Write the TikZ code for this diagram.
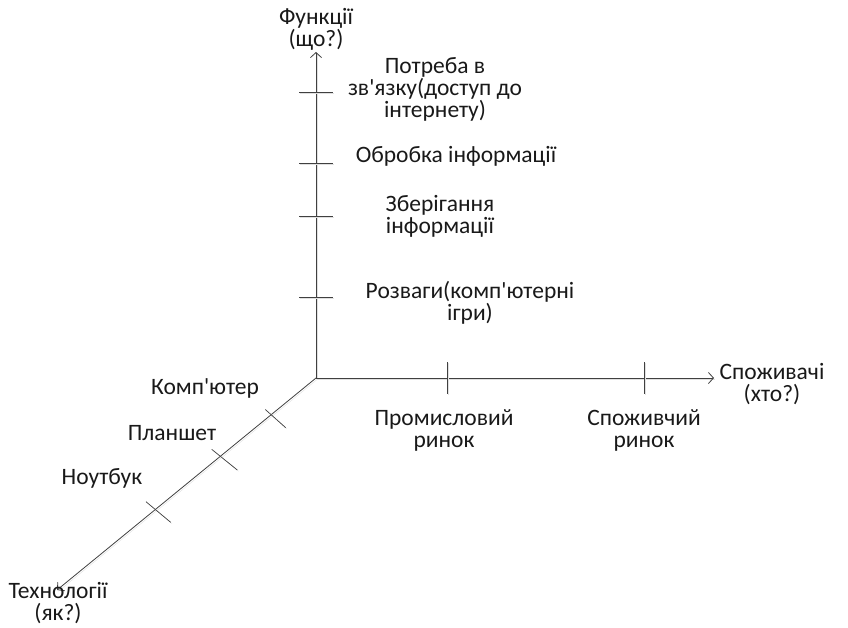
\documentclass[tikz,border=0pt]{standalone}
\usepackage{fontspec}
\setmainfont{Carlito}[Ligatures=TeXOff]
\usetikzlibrary{arrows.meta, positioning}

\begin{document}
\begin{tikzpicture}[x=1pt, y=-1pt, font=\fontsize{23.5}{22}\selectfont,
    axis/.style={-{Straight Barb[length=5pt,width=11pt]}, draw=black!75, line width=0.8pt,
        preaction={draw=black!12, -, transform canvas={shift={(1.3pt,-1.3pt)}}}},
    tickmark/.style={draw=black!75, line width=0.7pt,
        preaction={draw=black!12, transform canvas={shift={(1.3pt,-1.3pt)}}}},
    lbl/.style={align=center, inner sep=0pt, text=black!90}]
\useasboundingbox (0,0) rectangle (848,627);

% axes
\coordinate (o) at (316,378);
\coordinate (fntip) at (316,52);
\coordinate (constip) at (714,378);
\coordinate (techtip) at (57,590);
\draw[axis] (o) -- (fntip);
\draw[axis] (o) -- (constip);
\draw[axis] (o) -- (techtip);

% ticks
\foreach \y in {92,163,216,297}
    \draw[tickmark] (299,\y) -- (333,\y);
\foreach \x in {447,644}
    \draw[tickmark] (\x,362) -- (\x,394);
\draw[tickmark] (265.3,409.5) -- (285.7,427.7);
\draw[tickmark] (211.7,449.3) -- (237.3,470);
\draw[tickmark] (146,501.7) -- (170.7,522.3);

% axis names
\node[lbl] (fn) at (316,29) {Функції\\(що?)};
\node[lbl] (cons) at (772,384) {Споживачі\\(хто?)};
\node[lbl] (tech) at (58,603) {Технології\\(як?)};

% functions
\node[lbl] (need) at (435,89) {Потреба в\\зв'язку(доступ до\\інтернету)};
\node[lbl] (proc) at (456,156) {Обробка інформації};
\node[lbl] (store) at (440,216) {Зберігання\\інформації};
\node[lbl] (fun) at (470,303) {Розваги(комп'ютерні\\ігри)};

% consumers
\node[lbl] (ind) at (444,430) {Промисловий\\ринок};
\node[lbl] (cmk) at (644,430) {Споживчий\\ринок};

% technologies
\node[lbl] (pc) at (205,388) {Комп'ютер};
\node[lbl] (tab) at (172,433) {Планшет};
\node[lbl] (nb) at (102,478) {Ноутбук};
\end{tikzpicture}
\end{document}
